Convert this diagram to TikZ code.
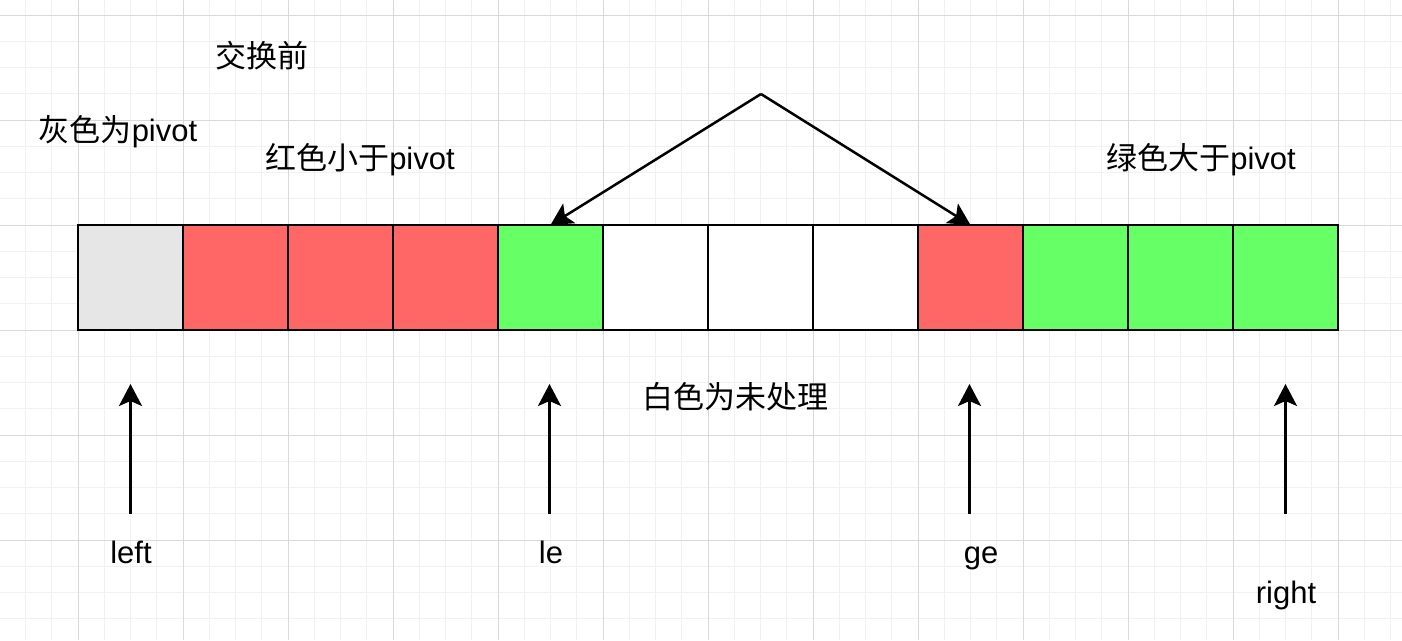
\documentclass[tikz,border=0pt]{standalone}
\usepackage{fontspec}
\setmainfont{Liberation Sans}
\newfontfamily\cjk{Noto Sans CJK SC}
\usetikzlibrary{arrows.meta}
\definecolor{gridmajor}{HTML}{D9D9D9}
\definecolor{gridminor}{HTML}{F1F1F1}
\definecolor{cgray}{HTML}{E6E6E6}
\definecolor{cred}{HTML}{FF6666}
\definecolor{cgreen}{HTML}{66FF66}
\tikzset{
  cell/.style={draw=black, line width=2.5pt, minimum width=105pt, minimum height=105pt, inner sep=0pt, outer sep=0pt, anchor=north west},
  lbl/.style={font=\fontsize{31}{36}\selectfont, inner sep=0pt, text=black},
  ptrlbl/.style={lbl, anchor=base},
  arr/.style={draw=black, line width=2.5pt, -{Stealth[length=22pt,width=23pt,inset=5pt]}},
}
\begin{document}
\begin{tikzpicture}[x=1pt,y=-1pt]
\useasboundingbox (0,0) rectangle (1402,640);
\fill[white] (0,0) rectangle (1402,640);
% grid
\foreach \i in {-3,...,52} {
  \draw[gridminor, line width=1pt] ({78+26.25*\i},0) -- ({78+26.25*\i},640);
}
\foreach \i in {-9,...,16} {
  \draw[gridminor, line width=1pt] (0,{225+26.25*\i}) -- (1402,{225+26.25*\i});
}
\foreach \i in {0,...,12} {
  \draw[gridmajor, line width=1pt] ({78+105*\i},0) -- ({78+105*\i},640);
}
\foreach \i in {-2,...,4} {
  \draw[gridmajor, line width=1pt] (0,{225+105*\i}) -- (1402,{225+105*\i});
}
% cells
\node[cell, fill=cgray]  (c1)  at (78,225) {};
\node[cell, fill=cred]   (c2)  at (183,225) {};
\node[cell, fill=cred]   (c3)  at (288,225) {};
\node[cell, fill=cred]   (c4)  at (393,225) {};
\node[cell, fill=cgreen] (c5)  at (498,225) {};
\node[cell, fill=white]  (c6)  at (603,225) {};
\node[cell, fill=white]  (c7)  at (708,225) {};
\node[cell, fill=white]  (c8)  at (813,225) {};
\node[cell, fill=cred]   (c9)  at (918,225) {};
\node[cell, fill=cgreen] (c10) at (1023,225) {};
\node[cell, fill=cgreen] (c11) at (1128,225) {};
\node[cell, fill=cgreen] (c12) at (1233,225) {};
% labels
\node[lbl] (t0) at (262,56) {\cjk 交换前};
\node[lbl] (t1) at (118,132) {{\cjk 灰色为}pivot};
\node[lbl] (t2) at (360,160) {{\cjk 红色小于}pivot};
\node[lbl] (t3) at (1201,160) {{\cjk 绿色大于}pivot};
\node[lbl] (t4) at (735,397) {\cjk 白色为未处理};
\node[ptrlbl] (lleft) at (131,563) {left};
\node[ptrlbl] (lle) at (551,563) {le};
\node[ptrlbl] (lge) at (981,563) {ge};
\node[ptrlbl] (lright) at (1286,603) {right};
% swap arrows
\coordinate (apex) at (761,94);
\draw[arr] (apex) -- (c5.north);
\draw[arr] (apex) -- (c9.north);
% pointer arrows
\coordinate (pL) at (130.5,514);
\coordinate (pLE) at (549.5,514);
\coordinate (pGE) at (969.5,514);
\coordinate (pR) at (1285.5,514);
\draw[arr] (pL) -- (130.5,384);
\draw[arr] (pLE) -- (549.5,384);
\draw[arr] (pGE) -- (969.5,384);
\draw[arr] (pR) -- (1285.5,384);
\end{tikzpicture}
\end{document}
